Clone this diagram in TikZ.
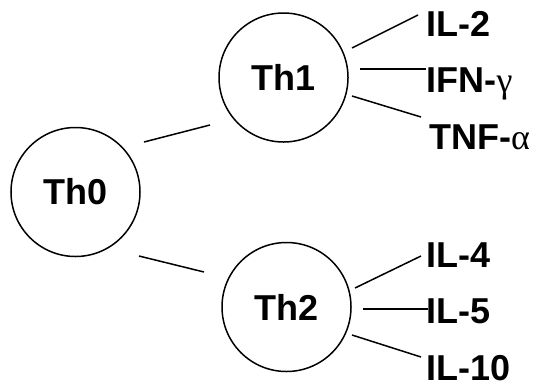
\documentclass[tikz,border=0pt]{standalone}
\usepackage{fontspec}
\setmainfont{Liberation Sans}
\newfontfamily\grk{Liberation Serif}
\usetikzlibrary{calc}
\tikzset{
  cell/.style={circle,draw,line width=1.5bp,minimum size=129bp,inner sep=0pt,font=\fontsize{36bp}{40bp}\selectfont\bfseries},
  lab/.style={anchor=base west,inner sep=0pt,font=\fontsize{36bp}{40bp}\selectfont\bfseries},
  link/.style={line width=1.5bp}
}
\begin{document}
\begin{tikzpicture}[x=1bp,y=-1bp]
\useasboundingbox (0,0) rectangle (533,383);
\node[cell] (th0) at (75.5,192) {Th0};
\node[cell] (th1) at (283.5,77.5) {Th1};
\node[cell] (th2) at (286.5,307) {Th2};
\node[lab] (il2) at (426.5,36) {IL-2};
\node[lab] (ifn) at (426.5,92) {IFN-{\grk\mdseries γ}};
\node[lab] (tnf) at (429,149) {TNF-{\grk\mdseries α}};
\node[lab] (il4) at (426.5,267) {IL-4};
\node[lab] (il5) at (426.5,323) {IL-5};
\node[lab] (il10) at (426.5,380) {IL-10};
\draw[link] ($(th0.center)+(68.5,-50)$) -- ($(th1.center)+(-73.5,47.5)$);
\draw[link] ($(th0.center)+(63.5,64)$) -- ($(th2.center)+(-82.5,-35)$);
\draw[link] ($(th1.center)+(68.5,-29.5)$) -- ($(il2.base west)+(-8.5,-21)$);
\draw[link] ($(th1.center)+(76.5,-8.5)$) -- ($(ifn.base west)+(-0.5,-23)$);
\draw[link] ($(th1.center)+(68.5,18.5)$) -- ($(tnf.base west)+(-8,-32)$);
\draw[link] ($(th2.center)+(68.5,-19)$) -- ($(il4.base west)+(-5.5,-11)$);
\draw[link] ($(th2.center)+(76.5,2)$) -- ($(il5.base west)+(1.5,-14)$);
\draw[link] ($(th2.center)+(65.5,28)$) -- ($(il10.base west)+(-5.5,-23)$);
\end{tikzpicture}
\end{document}
